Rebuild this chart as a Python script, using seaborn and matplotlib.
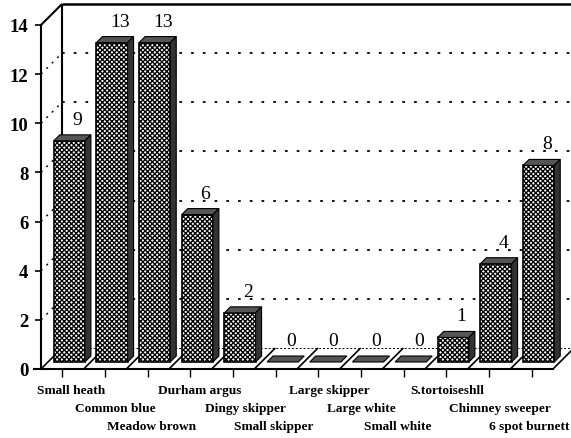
import matplotlib
matplotlib.use("Agg")
import matplotlib.pyplot as plt
import seaborn as sns
import pandas as pd
from matplotlib.patches import Polygon
from matplotlib.transforms import Affine2D, IdentityTransform

species = ["Small heath", "Common blue", "Meadow brown", "Durham argus", "Dingy skipper",
           "Small skipper", "Large skipper", "Large white", "Small white", "S.tortoiseshll",
           "Chimney sweeper", "6 spot burnett"]
counts = [9, 13, 13, 6, 2, 0, 0, 0, 0, 1, 4, 8]
yticks = [0, 2, 4, 6, 8, 10, 12, 14]
label_rows = [0, 1, 2, 0, 1, 2, 0, 1, 2, 0, 1, 2]
label_shift = [9, 10, 4, 9, 12, -2, 11, 0, -6, 1, 11, -2]

sns.set_theme(style="white")
plt.rcParams["font.family"] = ["Liberation Serif", "DejaVu Serif"]
plt.rcParams["hatch.linewidth"] = 0.95

W, H = 571, 439
fig = plt.figure(figsize=(W / 100, H / 100), dpi=100, facecolor="white")
ax = fig.add_axes([41 / W, (H - 370) / H, 512 / W, 344 / H])
ax.patch.set_visible(False)

df = pd.DataFrame({"species": species, "count": counts})
sns.barplot(data=df, x="species", y="count", order=species, width=0.73, color="white",
            saturation=1, edgecolor="black", linewidth=1.2, hatch="xxxxxxx", ax=ax, errorbar=None)
ax.set_xlim(-0.5, 11.5)
ax.set_ylim(0, 14)
ax.set_xlabel("")
ax.set_ylabel("")
for s in ["top", "right"]:
    ax.spines[s].set_visible(False)
for s in ["left", "bottom"]:
    ax.spines[s].set_linewidth(1.5)
    ax.spines[s].set_color("black")

ax.set_yticks(yticks)
ax.tick_params(axis="y", left=True, length=4, width=1.2, color="black", pad=5, labelsize=13.5, labelcolor="black")
for t in ax.get_yticklabels():
    t.set_fontweight("bold")

ax.set_xticks(range(len(species)))
ax.set_xticklabels(species)
ax.tick_params(axis="x", bottom=True, length=6, width=1.0, color="black", pad=0, labelsize=9.6, labelcolor="black")
for lab, r, dx in zip(ax.get_xticklabels(), label_rows, label_shift):
    lab.set_fontweight("bold")
    lab.set_transform(lab.get_transform() + Affine2D().translate(dx, -7 - 17.8 * r))

fig.canvas.draw()
DATA = ax.transData
ID = IdentityTransform()
DEPTH = 21


def pt(x, y, d=0):
    a, b = DATA.transform((x, y))
    return (a + d, b + d)


def seg(p, q, **kw):
    kw.setdefault("color", "black")
    kw.setdefault("lw", 1.2)
    kw.setdefault("zorder", 0.5)
    ax.plot([p[0], q[0]], [p[1], q[1]], transform=ID, clip_on=False, solid_capstyle="butt", **kw)


xl, xr = -0.5, 11.5
# back wall, side wall and floor outline
seg(pt(xl, 0, DEPTH), pt(xl, 14, DEPTH), lw=1.5)
seg(pt(xl, 14, DEPTH), (W, pt(xl, 14, DEPTH)[1]), lw=1.8)
seg(pt(xl, 14), pt(xl, 14, DEPTH), lw=1.5)
seg(pt(xl, 0), pt(xl, 0, DEPTH), lw=1.2)
seg(pt(xr, 0), pt(xr, 0, DEPTH), lw=1.2)
seg(pt(xl, 0, DEPTH), pt(xr, 0, DEPTH), lw=0.7, ls=(0, (2, 2)))
seg((33, pt(xl, 0)[1]), pt(xl, 0), lw=1.5)
for v in yticks[1:-1]:
    seg(pt(xl, v, DEPTH), (W, pt(xl, v, DEPTH)[1]), lw=1.3, ls=(0, (1.5, 5)))
    seg(pt(xl, v), pt(xl, v, DEPTH), lw=1.0, ls=(0, (1.5, 4)))
for i in range(1, 12):
    seg(pt(xl + i, 0), pt(xl + i, 0, DEPTH), lw=1.2)

# bars: move the front faces onto the floor, then add their top and side faces
OFF, D = 7, 6
for rect, c in zip(ax.patches[:len(counts)], counts):
    x0, x1 = rect.get_x(), rect.get_x() + rect.get_width()
    rect.set_transform(DATA + Affine2D().translate(OFF, OFF))
    rect.set_clip_on(False)
    rect.set_zorder(3)
    a, b = pt(x0, c, OFF), pt(x1, c, OFF)
    top = [a, b, (b[0] + D, b[1] + D), (a[0] + D, a[1] + D)]
    faces = [(top, "#555555")]
    if c > 0:
        g = pt(x1, 0, OFF)
        faces.append(([b, g, (g[0] + D, g[1] + D), (b[0] + D, b[1] + D)], "#333333"))
    for f, col in faces:
        ax.add_patch(Polygon(f, closed=True, transform=ID, clip_on=False, facecolor=col,
                             edgecolor="black", lw=0.8, zorder=3))
    if c == 0:
        rect.set_visible(False)
    lx, ly = pt((x0 + x1) / 2, c, OFF + D / 2)
    ax.text(lx + 5, ly + 10, str(c), transform=ID, ha="center", va="bottom", fontsize=14,
            color="black", clip_on=False, zorder=4)

fig.savefig("out.png", dpi=100, facecolor="white")
